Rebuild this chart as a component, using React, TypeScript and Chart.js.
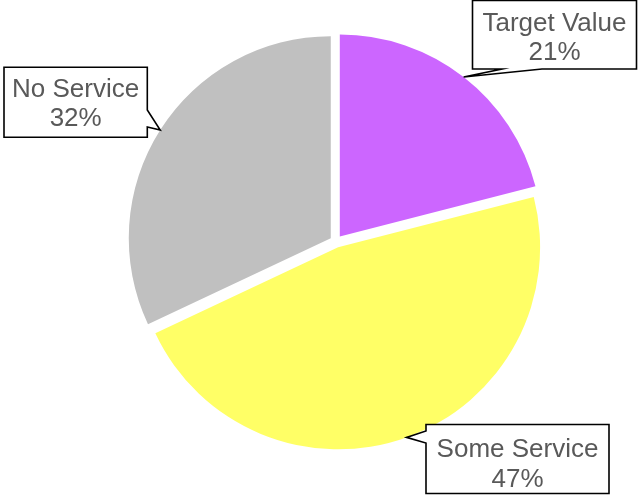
import React, { useEffect, useRef } from "react";
import { Chart, registerables } from "chart.js";

Chart.register(...registerables);

const categories = ["Target Value", "Some Service", "No Service"];
const values = [21, 47, 32];
const colors = ["#CC66FF", "#FFFF66", "#C0C0C0"];

const EXPLODE = 6.2;
const TEXT_COLOR = "#595959";
const FONT = "26px 'Liberation Sans', Arial, sans-serif";

// callout box layout (per slice index)
const callouts: Record<number, any> = {
  0: { x: 472.5, y: 0.5, w: 164, h: 68.5, side: "bottom", b0: 502, b1: 542, t1: 30.5, t2: 60 },
  1: { x: 426, y: 424.5, w: 183, h: 69, side: "left", b0: 431, b1: 443, t1: 457, t2: 486.5 },
  2: { x: 4, y: 67.3, w: 143.3, h: 70, side: "right", b0: 110, b1: 127, t1: 97.3, t2: 126 },
};

const calloutPlugin = {
  id: "explodeCallouts",
  beforeDatasetDraw(chart: any, args: any) {
    const meta = chart.getDatasetMeta(args.index);
    const ctx = chart.ctx;
    meta.data.forEach((arc: any) => {
      const half = (arc.startAngle + arc.endAngle) / 2;
      ctx.save();
      ctx.translate(Math.cos(half) * EXPLODE, Math.sin(half) * EXPLODE);
      arc.draw(ctx);
      ctx.restore();
    });
    return false;
  },
  afterDatasetsDraw(chart: any) {
    const meta = chart.getDatasetMeta(0);
    const ctx = chart.ctx;
    meta.data.forEach((arc: any, i: number) => {
      const c = callouts[i];
      if (!c) return;
      const half = (arc.startAngle + arc.endAngle) / 2;
      const r = arc.outerRadius + EXPLODE;
      const tx = arc.x + Math.cos(half) * r;
      const ty = arc.y + Math.sin(half) * r;
      const { x, y, w, h } = c;
      ctx.save();
      ctx.beginPath();
      ctx.moveTo(x, y);
      ctx.lineTo(x + w, y);
      if (c.side === "right") {
        ctx.lineTo(x + w, c.b0);
        ctx.lineTo(tx, ty);
        ctx.lineTo(x + w, c.b1);
      }
      ctx.lineTo(x + w, y + h);
      if (c.side === "bottom") {
        ctx.lineTo(c.b1, y + h);
        ctx.lineTo(tx, ty);
        ctx.lineTo(c.b0, y + h);
      }
      ctx.lineTo(x, y + h);
      if (c.side === "left") {
        ctx.lineTo(x, c.b1);
        ctx.lineTo(tx, ty);
        ctx.lineTo(x, c.b0);
      }
      ctx.closePath();
      ctx.fillStyle = "#FFFFFF";
      ctx.fill();
      ctx.lineWidth = 1.6;
      ctx.strokeStyle = "#000000";
      ctx.lineJoin = "miter";
      ctx.stroke();
      ctx.fillStyle = TEXT_COLOR;
      ctx.font = FONT;
      ctx.textAlign = "center";
      ctx.textBaseline = "alphabetic";
      const cx = x + w / 2;
      ctx.fillText(categories[i], cx, c.t1);
      ctx.fillText(values[i] + "%", cx, c.t2);
      ctx.restore();
    });
  },
};

export default function App() {
  const ref = useRef<HTMLCanvasElement>(null);
  useEffect(() => {
    document.body.style.margin = "0";
    const chart = new Chart(ref.current!, {
      type: "pie",
      data: {
        labels: categories,
        datasets: [
          {
            data: values,
            backgroundColor: colors,
            borderWidth: 0,
            radius: 202,
          } as any,
        ],
      },
      options: {
        animation: false,
        responsive: false,
        layout: { padding: { left: 31, right: 0, top: 0, bottom: 12 } },
        plugins: { legend: { display: false }, tooltip: { enabled: false } },
      },
      plugins: [calloutPlugin],
    });
    return () => chart.destroy();
  }, []);
  return (
    <div style={{ position: "absolute", left: 0, top: 0, width: 641, height: 495, background: "#fff" }}>
      <canvas ref={ref} width={641} height={495} />
    </div>
  );
}
